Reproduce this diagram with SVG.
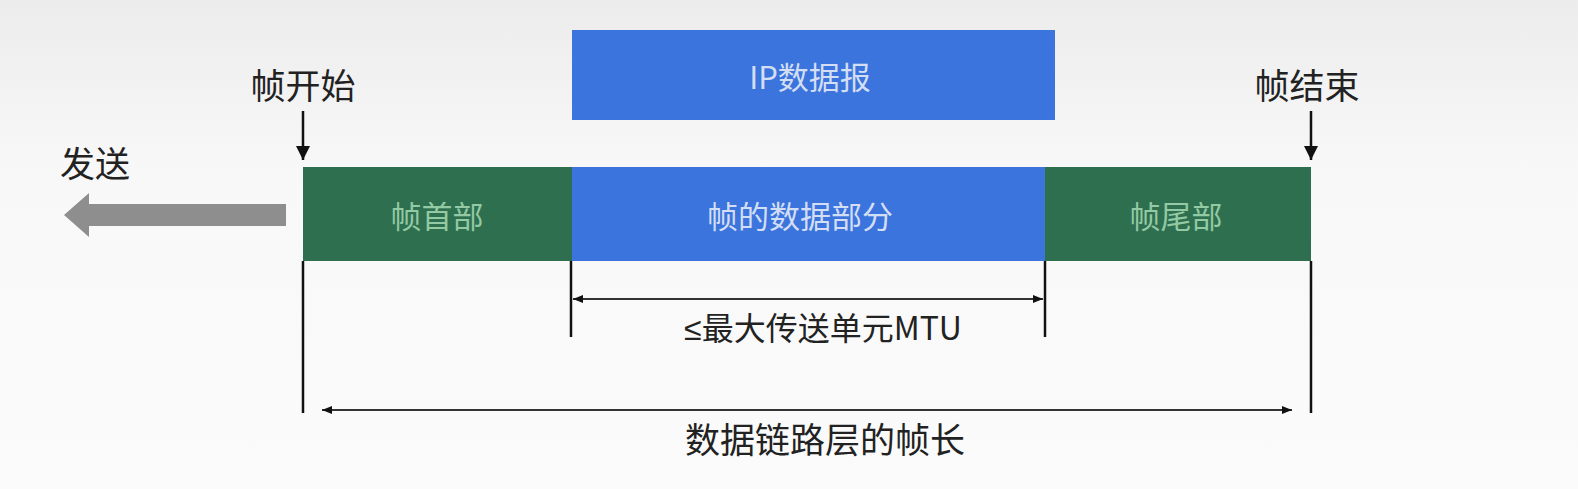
<svg xmlns="http://www.w3.org/2000/svg" width="1578" height="489" viewBox="0 0 1578 489">
<defs>
<linearGradient id="bg" x1="0" y1="0" x2="0" y2="1">
<stop offset="0" stop-color="#ececec"/>
<stop offset="0.35" stop-color="#f8f8f8"/>
<stop offset="1" stop-color="#fbfbfb"/>
</linearGradient>
<marker id="ah" viewBox="0 0 10 10" refX="10" refY="5" markerWidth="10" markerHeight="10" markerUnits="userSpaceOnUse" orient="auto-start-reverse">
<path d="M0,1 L10,5 L0,9 Z" fill="#111"/>
</marker>
<marker id="down" viewBox="0 0 10 10" refX="10" refY="5" markerWidth="14" markerHeight="14" markerUnits="userSpaceOnUse" orient="auto">
<path d="M0,0 L10,5 L0,10 Z" fill="#111"/>
</marker>
<style>
.lbl{font-family:"Noto Sans CJK SC","Liberation Sans",sans-serif;fill:#222;text-anchor:middle}
.in{font-family:"Noto Sans CJK SC","Liberation Sans",sans-serif;text-anchor:middle;dominant-baseline:central;font-size:31px}
.green{fill:#2e6f4f}
.blue{fill:#3b74dc}
.gt{fill:#93c9a3}
.bt{fill:#d3def5}
.ln{stroke:#111;stroke-width:2.5;fill:none}
.dim{stroke:#333;stroke-width:2;fill:none}
</style>
</defs>
<rect width="1578" height="489" fill="url(#bg)"/>

<g id="ip-datagram">
<rect x="572" y="30" width="483" height="90" class="blue"/>
<text x="810" y="75" class="in bt" font-size="33">IP数据报</text>
</g>

<g id="frame-header">
<rect x="303" y="167" width="269" height="94" class="green"/>
<text x="437" y="214" class="in gt">帧首部</text>
</g>

<g id="frame-data">
<rect x="572" y="167" width="473" height="94" class="blue"/>
<text x="800" y="214" class="in bt">帧的数据部分</text>
</g>

<g id="frame-trailer">
<rect x="1045" y="167" width="266" height="94" class="green"/>
<text x="1176" y="214" class="in gt">帧尾部</text>
</g>

<g id="label-start">
<text x="303" y="99" class="lbl" font-size="35">帧开始</text>
</g>
<g id="label-end">
<text x="1307" y="99" class="lbl" font-size="35">帧结束</text>
</g>
<g id="label-send">
<text x="95" y="177" class="lbl" font-size="35">发送</text>
</g>
<g id="label-mtu">
<text x="823" y="340" class="lbl" font-size="32"><tspan font-family="Liberation Sans, sans-serif">≤</tspan>最大传送单元MTU</text>
</g>
<g id="label-length">
<text x="825" y="453" class="lbl" font-size="35">数据链路层的帧长</text>
</g>

<g id="connectors">
<path d="M286,204 H89 V193 L64,215 L89,237 V226 H286 Z" fill="#8e8e8e"/>
<line x1="303" y1="111" x2="303" y2="160" class="ln" marker-end="url(#down)"/>
<line x1="1311" y1="111" x2="1311" y2="160" class="ln" marker-end="url(#down)"/>
<line x1="303" y1="261" x2="303" y2="413" class="ln"/>
<line x1="1311" y1="261" x2="1311" y2="413" class="ln"/>
<line x1="571" y1="261" x2="571" y2="337" class="ln"/>
<line x1="1045" y1="261" x2="1045" y2="337" class="ln"/>
<line x1="573" y1="299" x2="1043" y2="299" class="dim" marker-start="url(#ah)" marker-end="url(#ah)"/>
<line x1="322" y1="410" x2="1292" y2="410" class="dim" marker-start="url(#ah)" marker-end="url(#ah)"/>
</g>
</svg>
